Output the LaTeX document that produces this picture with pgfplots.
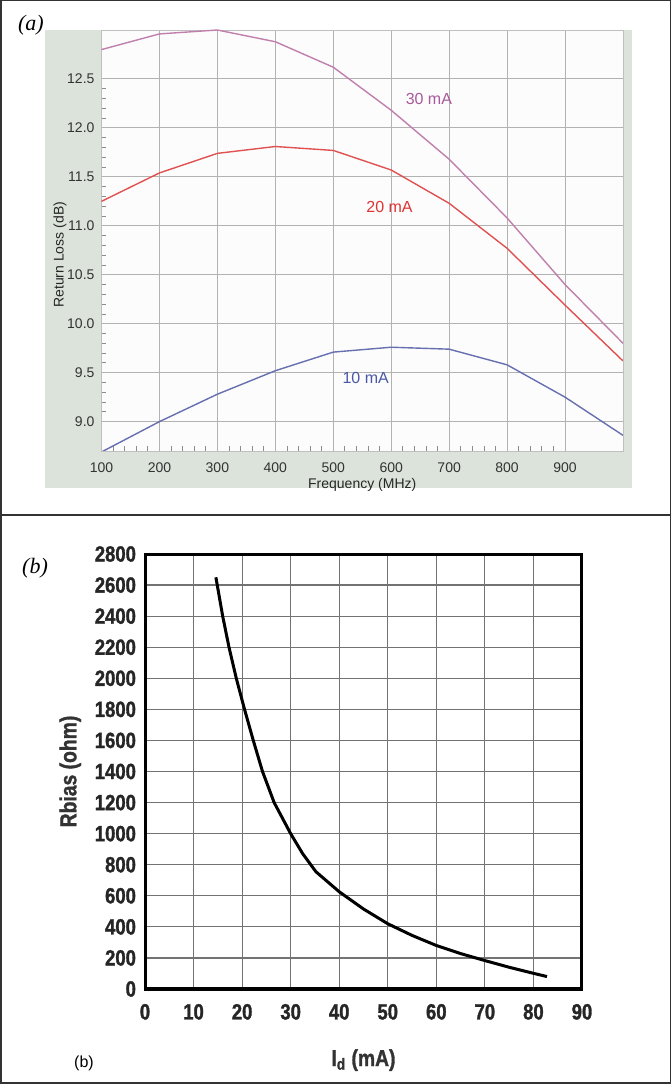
\documentclass[border=0pt]{standalone}
\usepackage{fontspec}
\setmainfont{Liberation Sans}
\newfontfamily\condbold[FakeStretch=0.84, FakeBold=1.4]{Liberation Sans}
\newfontfamily\serifit{Liberation Serif}
\usepackage{pgfplots}
\pgfplotsset{compat=1.18}
\definecolor{bgA}{HTML}{DCE3DB}
\definecolor{lineA}{HTML}{C080AE}
\definecolor{labA}{HTML}{A85A9C}
\definecolor{lineB}{HTML}{E05252}
\definecolor{labB}{HTML}{E03434}
\definecolor{lineC}{HTML}{6670B0}
\definecolor{labC}{HTML}{4A58A6}
\pgfplotsset{/pgf/number format/assume math mode=true}

\begin{document}
\begin{tikzpicture}[x=0.5pt,y=0.5pt]
\useasboundingbox (0,0) rectangle (671,1084);
% panel frame
\draw[line width=0.75pt, black!80] (0.75,0.75) rectangle (670.25,1083.25);
\draw[line width=0.75pt, black!80] (0,569) -- (671,569);
% grey backdrop of panel (a)
\fill[bgA] (44.5,596) rectangle (632,1054);

\begin{axis}[
  at={(50.75pt,316.5pt)}, anchor=south west,
  scale only axis, width=260.75pt, height=210.5pt,
  xmin=100, xmax=1000, ymin=8.7, ymax=13.0,
  xtick={100,200,...,900}, ytick={9,9.5,...,12.5},
  minor x tick num=4, minor y tick num=4,
  grid=major, major grid style={black!30, line width=0.5pt},
  axis background/.style={fill=white!98!gray},
  axis line style={black!25},
  tick align=inside, xtick pos=bottom, ytick pos=left,
  major tick length=0pt, minor tick length=2.5pt,
  minor tick style={black!45, line width=0.4pt},
  tick label style={font=\fontsize{7}{8}\selectfont, text=black!80},
  xticklabel style={yshift=-2.5pt},
  yticklabel style={/pgf/number format/.cd, fixed, fixed zerofill, precision=1},
  label style={font=\fontsize{7}{8}\selectfont, text=black!85},
  xlabel={Frequency (MHz)}, ylabel={Return Loss (dB)},
  xlabel style={yshift=4pt},
  ylabel style={at={(axis description cs:-0.0796,0.466)}, anchor=center},
  clip=true,
]
\addplot[lineA, line width=0.7pt] coordinates {
(100,12.80) (200,12.96) (300,13.00) (400,12.88) (500,12.62)
(600,12.18) (700,11.68) (800,11.08) (900,10.40) (1000,9.80)
};
\addplot[lineB, line width=0.7pt] coordinates {
(100,11.25) (200,11.54) (300,11.74) (400,11.81) (500,11.77)
(600,11.57) (700,11.23) (800,10.77) (900,10.19) (1000,9.62)
};
\addplot[lineC, line width=0.7pt] coordinates {
(100,8.69) (200,9.00) (300,9.28) (400,9.52) (500,9.71)
(600,9.76) (700,9.74) (800,9.58) (900,9.25) (1000,8.86)
};
\node[text=labA, font=\fontsize{8}{9}\selectfont] at (axis cs:665,12.30) {30 mA};
\node[text=labB, font=\fontsize{8}{9}\selectfont] at (axis cs:597,11.19) {20 mA};
\node[text=labC, font=\fontsize{8}{9}\selectfont] at (axis cs:556,9.45) {10 mA};
\end{axis}

\node[font=\serifit\itshape\fontsize{11}{13}\selectfont] at (31,1059) {(a)};

\begin{axis}[
  at={(72.5pt,47.5pt)}, anchor=south west,
  scale only axis, width=218.5pt, height=217.5pt,
  xmin=0, xmax=90, ymin=0, ymax=2800,
  xtick={0,10,...,90}, ytick={0,200,...,2800},
  grid=major, major grid style={black!55, line width=0.6pt},
  major tick length=0pt,
  axis line style={line width=1.5pt},
  /pgf/number format/1000 sep={},
  tick label style={font=\condbold\bfseries\fontsize{11}{12}\selectfont, text=black!85},
  xticklabel style={yshift=-4pt},
  yticklabel style={xshift=-1pt},
  label style={font=\condbold\bfseries\fontsize{11.5}{13}\selectfont, text=black!80},
  xlabel={I\textsubscript{d} (mA)}, ylabel={Rbias (ohm)},
  xlabel style={yshift=-8pt},
]
\addplot[black, line width=1.5pt] coordinates {
(14.6,2650) (16.0,2400) (17.3,2200) (18.8,2000) (20.5,1800) (22.3,1600)
(24.2,1400) (26.6,1200) (30.0,1000) (32.5,870) (35.2,755) (40.0,626)
(45.0,515) (50.0,420) (55.0,345) (60.0,280) (65.0,228) (70.0,183)
(75.0,140) (80.0,101) (82.8,80)
};
\draw[line width=2pt] (rel axis cs:0,0) -- (rel axis cs:1,0);
\end{axis}

\node[font=\serifit\itshape\fontsize{11}{13}\selectfont] at (35,516) {(b)};
\node[font=\fontsize{8}{9.6}\selectfont] at (84,21) {(b)};
\end{tikzpicture}
\end{document}
